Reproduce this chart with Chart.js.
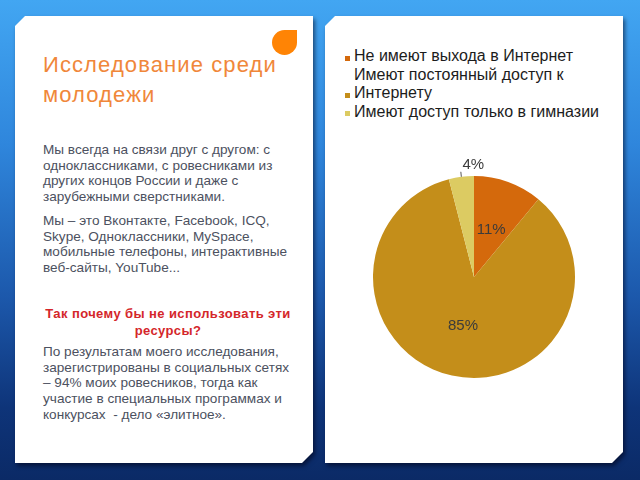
<!DOCTYPE html>
<html>
<head>
<meta charset="utf-8">
<script src="https://cdn.jsdelivr.net/npm/chart.js@4/dist/chart.umd.min.js"></script>
<style>
  html, body { margin: 0; padding: 0; }
  body {
    width: 640px; height: 480px; overflow: hidden; position: relative;
    background: linear-gradient(180deg, #42a6f2 0%, #2f86dc 30%, #1c58ab 62%, #0e3479 85%, #0b2a66 100%);
    font-family: "Liberation Sans", Arial, sans-serif;
  }
  .wrap { position: absolute; filter: drop-shadow(2px 3px 2px rgba(0,0,20,0.55)); }
  .panel {
    position: absolute; left: 0; top: 0; width: 100%; height: 100%; background: #fff;
    clip-path: polygon(10px 0, 100% 0, 100% calc(100% - 11px), calc(100% - 11px) 100%, 0 100%, 0 10px);
  }
  .abs { position: absolute; white-space: nowrap; }
  .title { color: #f0873a; font-size: 22px; line-height: 30px; letter-spacing: 1.1px; }
  .txt { color: #4c5160; font-size: 13.6px; line-height: 15.7px; }
  .red { color: #d4262a; font-size: 13px; font-weight: bold; line-height: 17px; letter-spacing: 0.4px; text-align: center; }
  .drop {
    position: absolute; left: 272px; top: 30px; width: 25px; height: 25px; background: #ff8405;
    border-radius: 50% 0 50% 50%;
  }
  #legend { position: absolute; left: 345px; top: 47px; width: 262px; color: #1c1c1c; font-size: 16px; line-height: 18.5px; }
  .item { display: flex; align-items: flex-end; }
  .box { width: 5px; height: 5px; flex: none; margin: 0 4px 5px 0; }
  #chartBox { position: absolute; left: 344px; top: 137px; }
</style>
</head>
<body>
<div class="wrap" style="left:15px; top:16px; width:298px; height:447px;"><div class="panel"></div></div>
<div class="wrap" style="left:325px; top:16px; width:298px; height:447px;"><div class="panel"></div></div>

<div class="drop"></div>
<div class="abs title" style="left:43px; top:50px;">Исследование среди<br>молодежи</div>

<div class="abs txt" style="left:43px; top:142px;">Мы всегда на связи друг с другом: с<br>одноклассниками, с ровесниками из<br>других концов России и даже с<br>зарубежными сверстниками.</div>
<div class="abs txt" style="left:43px; top:213px;">Мы – это Вконтакте, Facebook, ICQ,<br>Skype, Одноклассники, MySpace,<br>мобильные телефоны, интерактивные<br>веб-сайты, YouTube...</div>

<div class="abs red" style="left:30px; width:276px; top:305px;">Так почему бы не использовать эти<br>ресурсы?</div>

<div class="abs txt" style="left:43px; top:344px;">По результатам моего исследования,<br>зарегистрированы в социальных сетях<br>– 94% моих ровесников, тогда как<br>участие в специальных программах и<br>конкурсах &nbsp;- дело «элитное».</div>

<div id="legend"></div>
<div id="chartBox"><canvas id="pie" width="260" height="280"></canvas></div>

<script>
const labels = ['Не имеют выхода в Интернет', 'Имеют постоянный доступ к Интернету', 'Имеют доступ только в гимназии'];
const values = [11, 85, 4];
const colors = ['#d4690c', '#c48e1a', '#dccb62'];

// подписи процентов на секторах
const pctLabels = {
    id: 'pctLabels',
    afterDatasetsDraw(chart) {
        const ctx = chart.ctx;
        const meta = chart.getDatasetMeta(0);
        ctx.save();
        ctx.font = '15px "Liberation Sans", Arial, sans-serif';
        ctx.fillStyle = '#3b3b3b';
        ctx.textAlign = 'center';
        ctx.textBaseline = 'middle';
        meta.data.forEach((arc, i) => {
            const p = arc.getProps(['x', 'y', 'startAngle', 'endAngle', 'outerRadius'], true);
            const mid = (p.startAngle + p.endAngle) / 2;
            const text = values[i] + '%';
            if (values[i] < 6) {
                const ex = p.x + Math.cos(mid) * p.outerRadius;
                const ey = p.y + Math.sin(mid) * p.outerRadius;
                ctx.strokeStyle = '#555';
                ctx.lineWidth = 1;
                ctx.beginPath();
                ctx.moveTo(ex, ey);
                ctx.lineTo(ex - 0.5, ey - 5);
                ctx.stroke();
                ctx.fillText(text, ex + 12, ey - 12);
            } else {
                const r = p.outerRadius * 0.5;
                ctx.fillText(text, p.x + Math.cos(mid) * r, p.y + Math.sin(mid) * r);
            }
        });
        ctx.restore();
    }
};

const pieChart = new Chart(document.getElementById('pie'), {
    type: 'pie',
    data: {
        labels: labels,
        datasets: [{
            data: values,
            backgroundColor: colors,
            borderWidth: 0,
            radius: 101
        }]
    },
    options: {
        responsive: false,
        animation: false,
        layout: { padding: 0 },
        plugins: {
            legend: { display: false },
            tooltip: { enabled: false }
        }
    },
    plugins: [pctLabels]
});

// легенда в HTML, чтобы длинная подпись переносилась как в оригинале
const legendEl = document.getElementById('legend');
labels.forEach((text, i) => {
    const row = document.createElement('div');
    row.className = 'item';
    row.innerHTML = `<span class="box" style="background:${colors[i]}"></span><span>${text}</span>`;
    legendEl.appendChild(row);
});
</script>
</body>
</html>
